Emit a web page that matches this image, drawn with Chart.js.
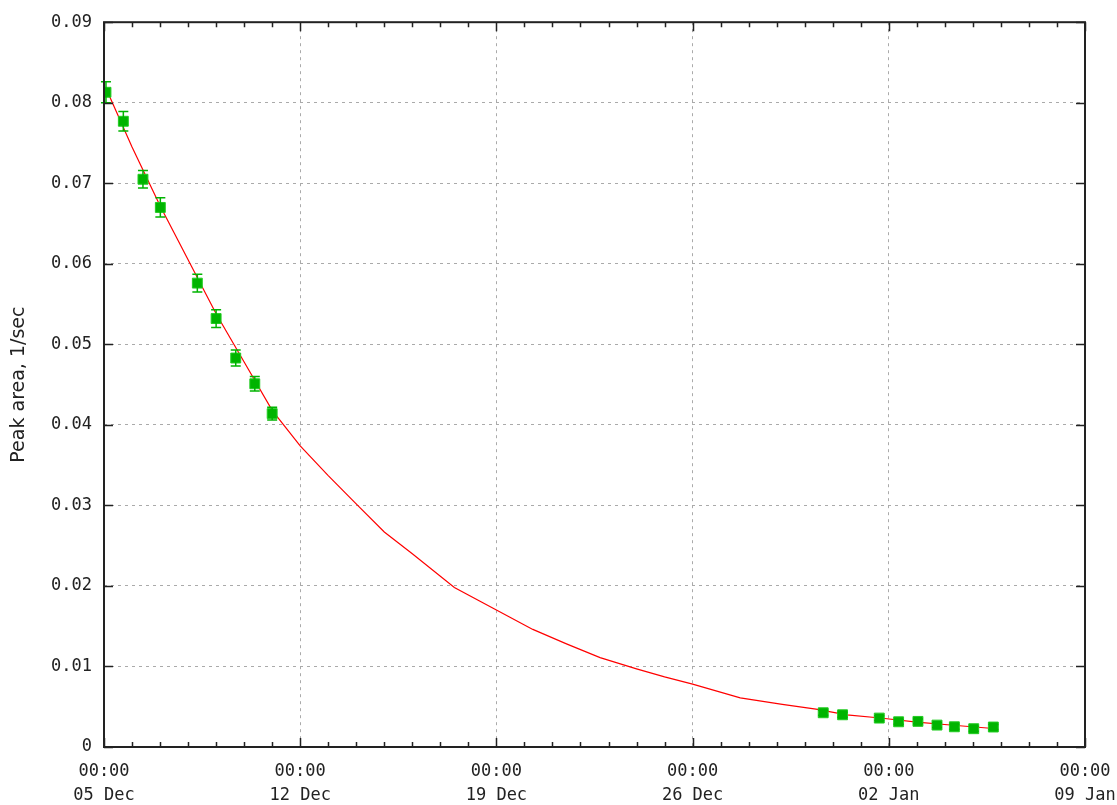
<!DOCTYPE html>
<html>
<head>
<meta charset="utf-8">
<title>Peak area</title>
<script src="https://cdn.jsdelivr.net/npm/chart.js@4.4.1/dist/chart.umd.min.js"></script>
<style>
  html, body { margin: 0; padding: 0; background: #fff; }
  #wrap { width: 1117px; height: 805px; }
</style>
</head>
<body>
<div id="wrap"><canvas id="grafico"></canvas></div>
<script>
// dias desde 05 Dec 00:00
const obsDays = [0.07, 0.69, 1.39, 2.01, 3.33, 4.00, 4.70, 5.38, 6.00,
                 25.66, 26.35, 27.66, 28.35, 29.04, 29.72, 30.34, 31.03, 31.73];
const obsValues = [0.0813, 0.0777, 0.0705, 0.0670, 0.0576, 0.0532, 0.0483, 0.0451, 0.0414,
                   0.00425, 0.0040, 0.00359, 0.00313, 0.00318, 0.00272, 0.00251, 0.00227, 0.00248];
const obsErrors = [0.0013, 0.0012, 0.0011, 0.0012, 0.0011, 0.0011, 0.0010, 0.0009, 0.0008,
                   0.0003, 0.0003, 0.0003, 0.0003, 0.0003, 0.0003, 0.0003, 0.0003, 0.0003];

// curva ajustada
const fitDays = [0.07, 1.0, 2.0, 3.0, 4.0, 5.0, 6.0, 7.0, 8.0, 9.05, 10.0, 11.0, 12.5,
                 14.0, 15.3, 16.5, 17.7, 19.0, 20.0, 21.0, 22.7, 24.2, 25.4, 26.5, 27.7,
                 29.0, 30.3, 31.73];
const fitValues = [0.0818, 0.0745, 0.0672, 0.0605, 0.0538, 0.0478, 0.0418, 0.0374, 0.0337,
                   0.0300, 0.0267, 0.0240, 0.0198, 0.0170, 0.0146, 0.0128, 0.0111, 0.0097,
                   0.0087, 0.0078, 0.0061, 0.0053, 0.0047, 0.0040, 0.0036, 0.0031, 0.0027,
                   0.0023];

const tickDates = ['05 Dec', '12 Dec', '19 Dec', '26 Dec', '02 Jan', '09 Jan'];
const yTicks = [0, 0.01, 0.02, 0.03, 0.04, 0.05, 0.06, 0.07, 0.08, 0.09];

const tickFont = { family: 'DejaVu Sans Mono', size: 17 };

// barras de erro
const errorBars = {
    id: 'errorBars',
    afterDatasetsDraw(chart) {
        const { ctx, scales: { x, y } } = chart;
        ctx.save();
        ctx.strokeStyle = '#00b400';
        ctx.lineWidth = 1.5;
        obsDays.forEach((d, i) => {
            const px = x.getPixelForValue(d);
            const top = y.getPixelForValue(obsValues[i] + obsErrors[i]);
            const bot = y.getPixelForValue(obsValues[i] - obsErrors[i]);
            ctx.beginPath();
            ctx.moveTo(px, top); ctx.lineTo(px, bot);
            ctx.moveTo(px - 5, top); ctx.lineTo(px + 5, top);
            ctx.moveTo(px - 5, bot); ctx.lineTo(px + 5, bot);
            ctx.stroke();
        });
        ctx.restore();
    }
};

// moldura e marcas para dentro
const frame = {
    id: 'frame',
    afterDraw(chart) {
        const { ctx, chartArea: a, scales: { x, y } } = chart;
        ctx.save();
        ctx.strokeStyle = '#222';
        ctx.lineWidth = 1.5;
        ctx.beginPath();
        for (let d = 0; d <= 35; d++) {
            const px = Math.round(x.getPixelForValue(d)) + 0.5;
            const len = d % 7 === 0 ? 9 : 5;
            ctx.moveTo(px, a.bottom); ctx.lineTo(px, a.bottom - len);
            ctx.moveTo(px, a.top); ctx.lineTo(px, a.top + len);
        }
        yTicks.forEach(v => {
            const py = Math.round(y.getPixelForValue(v)) + 0.5;
            ctx.moveTo(a.left, py); ctx.lineTo(a.left + 9, py);
            ctx.moveTo(a.right, py); ctx.lineTo(a.right - 9, py);
        });
        ctx.stroke();
        ctx.lineWidth = 2;
        ctx.strokeRect(a.left, a.top, a.right - a.left, a.bottom - a.top);
        ctx.restore();
    }
};

const ctx = document.getElementById('grafico').getContext('2d');
new Chart(ctx, {
    type: 'scatter',
    data: {
        datasets: [{
            label: 'Peak area',
            data: obsDays.map((d, i) => ({ x: d, y: obsValues[i] })),
            backgroundColor: '#00b400',
            borderColor: '#22cc22',
            borderWidth: 1,
            pointStyle: 'rect',
            pointRadius: 7,
            order: 0
        }, {
            label: 'Fit',
            type: 'line',
            data: fitDays.map((d, i) => ({ x: d, y: fitValues[i] })),
            borderColor: '#ff0000',
            borderWidth: 1.2,
            pointRadius: 0,
            fill: false,
            tension: 0,
            order: 1
        }]
    },
    options: {
        responsive: true,
        maintainAspectRatio: false,
        animation: false,
        layout: { padding: { top: 20, right: 32, left: 0, bottom: 0 } },
        plugins: {
            legend: { display: false },
            tooltip: { enabled: false }
        },
        scales: {
            x: {
                type: 'linear',
                min: 0,
                max: 35,
                afterFit(scale) {
                    scale.height = 58;
                    scale.paddingLeft = 0;
                    scale.paddingRight = 0;
                },
                ticks: {
                    stepSize: 7,
                    color: '#222',
                    font: { ...tickFont, lineHeight: 1.38 },
                    padding: 13,
                    maxRotation: 0,
                    callback: (v) => ['00:00', tickDates[v / 7]]
                },
                grid: {
                    color: '#aaa',
                    drawTicks: false
                },
                border: { display: false, dash: [3, 4] }
            },
            y: {
                min: 0,
                max: 0.09,
                afterFit(scale) { scale.width = 104; },
                ticks: {
                    stepSize: 0.01,
                    color: '#222',
                    font: tickFont,
                    padding: 12,
                    callback: (v) => v === 0 ? '0' : v.toFixed(2)
                },
                grid: {
                    color: '#aaa',
                    drawTicks: false
                },
                border: { display: false, dash: [3, 4] },
                title: {
                    display: true,
                    text: 'Peak area, 1/sec',
                    color: '#222',
                    font: { family: 'DejaVu Sans', size: 19 },
                    padding: { top: 8, bottom: 0 }
                }
            }
        }
    },
    plugins: [errorBars, frame]
});
</script>
</body>
</html>
